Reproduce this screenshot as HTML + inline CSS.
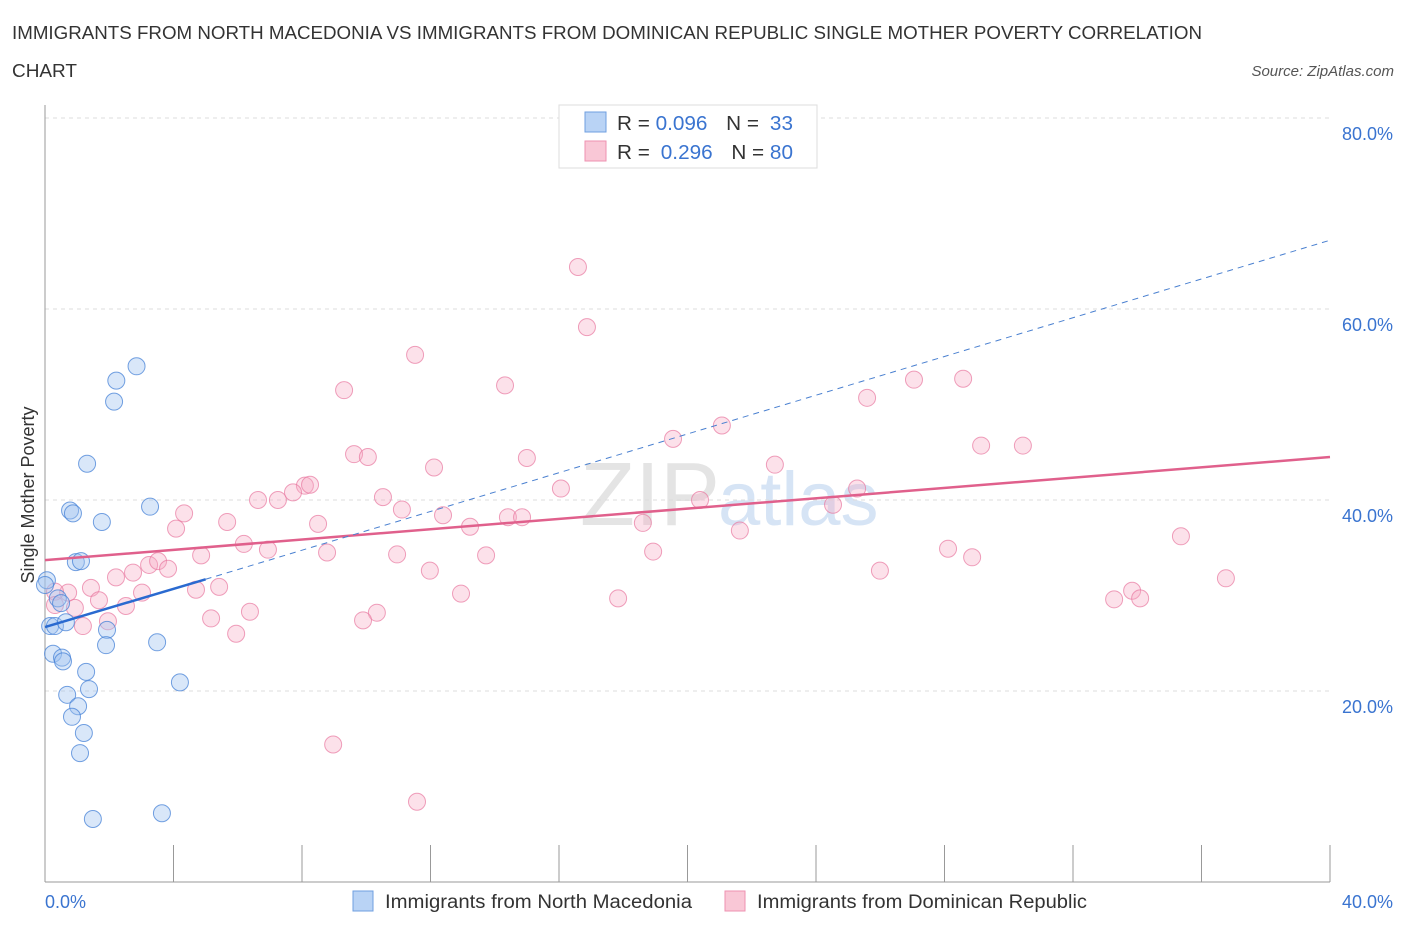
<!DOCTYPE html>
<html><head><meta charset="utf-8"><style>
body{margin:0;background:#fff;font-family:"Liberation Sans",sans-serif}
svg text{font-family:"Liberation Sans",sans-serif}
</style></head><body>
<svg width="1406" height="930" xmlns="http://www.w3.org/2000/svg">
<text x="12" y="39" font-size="18" fill="#333" textLength="1190" lengthAdjust="spacingAndGlyphs">IMMIGRANTS FROM NORTH MACEDONIA VS IMMIGRANTS FROM DOMINICAN REPUBLIC SINGLE MOTHER POVERTY CORRELATION</text>
<text x="12" y="77" font-size="18" fill="#333" textLength="65" lengthAdjust="spacingAndGlyphs">CHART</text>
<text x="1394" y="76" font-size="15" fill="#555" font-style="italic" text-anchor="end">Source: ZipAtlas.com</text>
<text x="720" y="525" font-size="90" fill="#e4e4e4" text-anchor="end" font-family="Liberation Serif">ZIP</text>
<text x="718" y="525" font-size="76" fill="#d6e4f5">atlas</text>
<g id="grid"></g>
<g id="axes"></g>
<g id="pts"></g>
<g id="lines"></g>
<text transform="translate(34,495) rotate(-90)" font-size="18" fill="#333" text-anchor="middle">Single Mother Poverty</text>
<text x="45" y="908" font-size="18" fill="#3a74d0">0.0%</text>
<text x="1393" y="908" font-size="18" fill="#3a74d0" text-anchor="end">40.0%</text>
<g>
<rect x="559" y="105" width="258" height="63" fill="#fff" stroke="#ddd"/>
<rect x="585" y="112" width="21" height="20" fill="#b9d3f5" stroke="#6f9fe0"/>
<rect x="585" y="141" width="21" height="20" fill="#f9c7d6" stroke="#ee92b0"/>
<text x="617" y="130" font-size="20" fill="#333" textLength="176" lengthAdjust="spacingAndGlyphs">R = <tspan fill="#3a74d0">0.096</tspan><tspan dx="18">N = </tspan><tspan fill="#3a74d0" dx="5">33</tspan></text>
<text x="617" y="159" font-size="20" fill="#333" textLength="176" lengthAdjust="spacingAndGlyphs">R = <tspan fill="#3a74d0" dx="5">0.296</tspan><tspan dx="18">N = </tspan><tspan fill="#3a74d0">80</tspan></text>
</g>
<g>
<rect x="353" y="891" width="20" height="20" fill="#b9d3f5" stroke="#6f9fe0"/>
<text x="385" y="908" font-size="19" fill="#333" textLength="307" lengthAdjust="spacingAndGlyphs">Immigrants from North Macedonia</text>
<rect x="725" y="891" width="20" height="20" fill="#f9c7d6" stroke="#ee92b0"/>
<text x="757" y="908" font-size="19" fill="#333" textLength="330" lengthAdjust="spacingAndGlyphs">Immigrants from Dominican Republic</text>
</g>
</svg>
<script>
const yTicks=[20,40,60,80];
const yTickLabels=["20.0%","40.0%","60.0%","80.0%"];
const xTicks=[0,4,8,12,16,20,24,28,32,36,40];
const blueX=[2.85,2.22,2.15,1.31,0.78,0.87,1.77,3.27,0.96,1.12,0.06,0.40,0.50,0.16,0.31,0.65,1.93,1.90,3.49,0.25,0.53,0.56,1.28,1.37,0.69,1.03,0.84,1.21,1.09,4.20,1.49,3.64,0.0];
const blueY=[54.0,52.5,50.3,43.8,38.9,38.6,37.7,39.3,33.5,33.6,31.6,29.7,29.2,26.8,26.8,27.2,26.4,24.8,25.1,23.9,23.5,23.1,22.0,20.2,19.6,18.4,17.3,15.6,13.5,20.9,6.6,7.2,31.1];
const pinkX=[16.59,16.87,11.52,14.32,9.31,25.59,27.05,28.58,21.07,19.55,29.14,30.44,9.62,10.05,15.00,12.11,22.72,8.09,8.25,7.72,7.25,6.63,10.52,4.33,11.11,12.39,16.06,25.28,20.39,24.53,5.67,8.50,4.08,13.23,14.41,14.85,18.61,21.63,6.19,6.94,8.78,4.86,10.96,13.73,18.93,28.11,28.86,35.36,3.24,3.52,3.83,2.74,2.21,6.38,11.98,25.99,36.76,1.43,0.72,0.31,5.42,4.70,3.02,1.68,33.84,33.28,34.09,12.95,17.84,2.52,0.93,0.31,1.96,1.18,10.33,9.90,5.17,5.95,8.97,11.58];
const pinkY=[64.4,58.1,55.2,52.0,51.5,50.7,52.6,52.7,47.8,46.4,45.7,45.7,44.8,44.5,44.4,43.4,43.7,41.5,41.6,40.8,40.0,40.0,40.3,38.6,39.0,38.4,41.2,41.2,40.0,39.5,37.7,37.5,37.0,37.2,38.2,38.2,37.6,36.8,35.4,34.8,34.5,34.2,34.3,34.2,34.6,34.9,34.0,36.2,33.2,33.6,32.8,32.4,31.9,28.3,32.6,32.6,31.8,30.8,30.3,30.4,30.9,30.6,30.3,29.5,30.5,29.6,29.7,30.2,29.7,28.9,28.7,29.0,27.3,26.8,28.2,27.4,27.6,26.0,14.4,8.4];
const blueLine=[[0,26.7],[5,31.7]];
const blueDash=[[5,31.7],[40,67.2]];
const pinkLine=[[0,33.7],[40,44.5]];
const NS="http://www.w3.org/2000/svg";
const X=v=>45+v*32.125, Y=v=>882-v*9.55;
function mk(t,a,p){const e=document.createElementNS(NS,t);for(const k in a)e.setAttribute(k,a[k]);document.getElementById(p).appendChild(e);return e;}
yTicks.forEach((t,i)=>{
 const g=mk('line',{x1:45,x2:1330,y1:Y(t),y2:Y(t),stroke:'#ddd','stroke-dasharray':'4,4'},'grid');
 
 
 const tx=mk('text',{x:1393,y:Y(t)+22,'font-size':18,fill:'#3a74d0','text-anchor':'end'},'grid');
 tx.textContent=yTickLabels[i];
 
 
});
const ya=mk('line',{x1:45,x2:45,y1:105,y2:882,stroke:'#999'},'axes');


const xa=mk('line',{x1:45,x2:1330,y1:882,y2:882,stroke:'#999'},'axes');


xTicks.forEach(t=>{const l=mk('line',{x1:X(t),x2:X(t),y1:845,y2:882,stroke:'#999'},'axes');
 
 });
pinkX.forEach((v,i)=>{const c=mk('circle',{cx:X(v),cy:Y(pinkY[i]),r:8.5,fill:'rgba(246,170,196,0.35)',stroke:'rgba(232,120,160,0.7)','stroke-width':1},'pts');
 
 });
blueX.forEach((v,i)=>{const c=mk('circle',{cx:X(v),cy:Y(blueY[i]),r:8.5,fill:'rgba(160,196,240,0.4)',stroke:'rgba(70,130,215,0.75)','stroke-width':1},'pts');
 
 });
function ln(p,st,w,d,name){const l=mk('line',{x1:X(p[0][0]),y1:Y(p[0][1]),x2:X(p[1][0]),y2:Y(p[1][1]),stroke:st,'stroke-width':w,'stroke-dasharray':d},'lines');
 
 }
ln(pinkLine,'#e0608c',2.5,'none','trend-dominican-republic');
ln(blueDash,'#4a80d0',1,'6,5','trend-north-macedonia-extension');
ln(blueLine,'#2a6ad0',2.5,'none','trend-north-macedonia');
</script>
</body></html>
